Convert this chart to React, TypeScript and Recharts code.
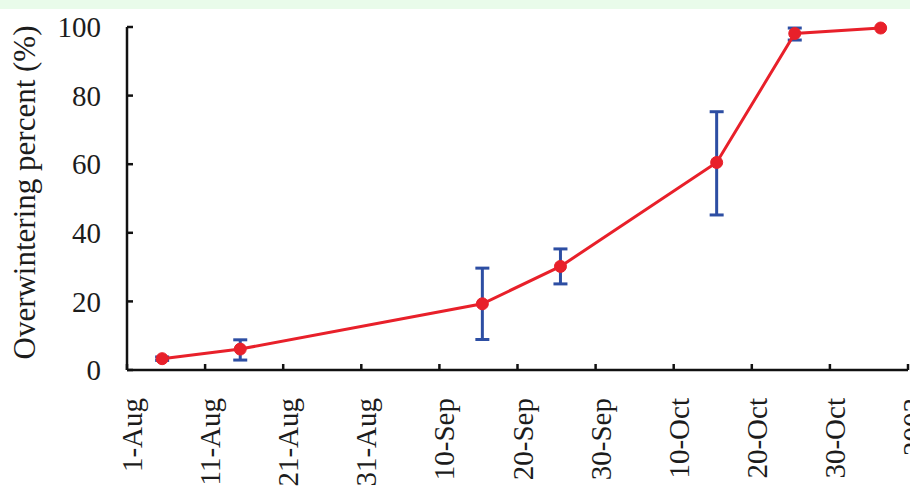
import { ErrorBar, Line, LineChart, XAxis, YAxis } from "recharts";

// days after 1-Aug for each sampling date
const sampleDays = [4.5, 14.5, 45.5, 55.5, 75.5, 85.5, 96.5];
const overwinteringPercent = [3.3, 6.1, 19.3, 30.2, 60.5, 98.1, 99.7];
const errorLow = [2.8, 2.9, 8.9, 25.1, 45.2, 96.2, null];
const errorHigh = [3.8, 8.8, 29.7, 35.3, 75.3, 99.7, null];

const xTicks = [0, 10, 20, 30, 40, 50, 60, 70, 80, 90, 100];
const xTickLabels = [
  "1-Aug",
  "11-Aug",
  "21-Aug",
  "31-Aug",
  "10-Sep",
  "20-Sep",
  "30-Sep",
  "10-Oct",
  "20-Oct",
  "30-Oct",
  "2003"
];
const yTicks = [0, 20, 40, 60, 80, 100];

const FONT = "'Liberation Serif', 'Times New Roman', serif";
const TEXT_COLOR = "#1c1c1c";

const chartData = sampleDays.map((day, i) => {
  const low = errorLow[i];
  const high = errorHigh[i];
  const value = overwinteringPercent[i];
  return {
    day,
    value,
    err: low == null || high == null ? null : [value - low, high - value]
  };
});

function DateTick(props: any) {
  const { x, y, payload } = props;
  const label = xTickLabels[xTicks.indexOf(payload.value)];
  return (
    <text
      x={x}
      y={y}
      dy={15}
      transform={`rotate(-90, ${x}, ${y})`}
      textAnchor="end"
      fontFamily={FONT}
      fontSize={29}
      fill={TEXT_COLOR}
    >
      {label}
    </text>
  );
}

function YAxisTitle(props: any) {
  const { viewBox } = props;
  const cx = 35;
  const cy = viewBox.y + viewBox.height / 2 - 6;
  return (
    <text
      x={cx}
      y={cy}
      transform={`rotate(-90, ${cx}, ${cy})`}
      textAnchor="middle"
      fontFamily={FONT}
      fontSize={31}
      fill={TEXT_COLOR}
    >
      Overwintering percent (%)
    </text>
  );
}

export default function App() {
  return (
    <div
      style={{
        position: "absolute",
        left: 0,
        top: 0,
        width: 910,
        height: 493,
        overflow: "hidden",
        background: "#ffffff"
      }}
    >
      <div style={{ position: "absolute", left: 0, top: 0, width: 910, height: 9, background: "#e9fbea" }} />
      <div style={{ position: "absolute", left: 0, top: 0 }}>
        <LineChart width={910} height={493} data={chartData} margin={{ top: 27, right: 2, bottom: 0, left: 0 }}>
          <XAxis
            dataKey="day"
            type="number"
            domain={[0, 100]}
            ticks={xTicks}
            interval={0}
            height={123}
            tickSize={-6}
            tickMargin={34}
            tick={<DateTick />}
            axisLine={{ stroke: "#111", strokeWidth: 2.5 }}
            tickLine={{ stroke: "#111", strokeWidth: 2.5 }}
          />
          <YAxis
            type="number"
            domain={[0, 100]}
            ticks={yTicks}
            interval={0}
            width={127}
            tickSize={-6}
            tickMargin={32}
            tick={{ fontFamily: FONT, fontSize: 29, fill: TEXT_COLOR }}
            axisLine={{ stroke: "#111", strokeWidth: 2.5 }}
            tickLine={{ stroke: "#111", strokeWidth: 2.5 }}
            label={<YAxisTitle />}
          />
          <Line
            type="linear"
            dataKey="value"
            stroke="#e8202a"
            strokeWidth={3}
            dot={{ r: 6, fill: "#e8202a", stroke: "#e8202a", strokeWidth: 1 }}
            activeDot={false}
            isAnimationActive={false}
          >
            <ErrorBar dataKey="err" width={7} stroke="#2d4ea3" strokeWidth={3} direction="y" />
          </Line>
        </LineChart>
      </div>
    </div>
  );
}
